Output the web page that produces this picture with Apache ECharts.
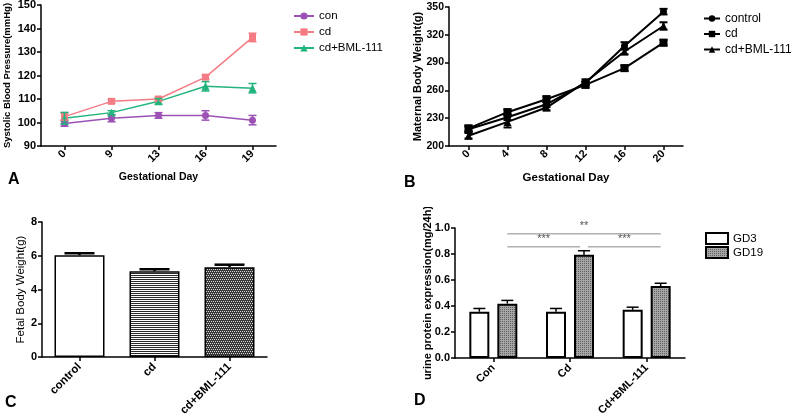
<!DOCTYPE html>
<html>
<head>
<meta charset="utf-8">
<script src="https://cdn.jsdelivr.net/npm/echarts@6/dist/echarts.min.js"></script>
<style>
body{margin:0;background:#fff;}
.p{position:absolute;width:400px;height:207px;}
</style>
</head>
<body>
<div id="divA" class="p" style="left:0;top:0"></div>
<div id="divB" class="p" style="left:400px;top:0"></div>
<div id="divC" class="p" style="left:0;top:207px"></div>
<div id="divD" class="p" style="left:400px;top:207px"></div>
<script>
var font = 'Liberation Sans';

// A - systolic blood pressure
var daysA = ['0', '9', '13', '16', '19'];
var conA = [99.6, 101.8, 103, 103, 101];
var conAErr = [1.2, 1.5, 1.2, 2, 2];
var cdA = [102.5, 109, 110, 119.3, 136.2];
var cdAErr = [1.5, 0.8, 0.8, 0.8, 1.8];
var bmlA = [101.8, 104.2, 109, 115.4, 114.6];
var bmlAErr = [2.5, 0.8, 1.2, 2, 2];

// B - maternal body weight
var daysB = ['0', '4', '8', '12', '16', '20'];
var ctrlB = [218, 231, 245, 268, 308, 345];
var ctrlBErr = [3, 3, 3, 2, 4, 3];
var cdB = [219, 236.5, 250.5, 266, 284, 311.5];
var cdBErr = [3, 3, 3, 3, 3, 3];
var bmlB = [211, 226, 241.5, 269, 302, 329.5];
var bmlBErr = [3, 6, 3, 3, 3, 4];
var ticksB = [200, 230, 260, 290, 320, 350];

// C - fetal body weight
var groupsC = ['control', 'cd', 'cd+BML-111'];
var fetalC = [6.03, 5.08, 5.32];
var fetalCErr = [0.12, 0.12, 0.15];

// D - urine protein
var groupsD = ['Con', 'Cd', 'Cd+BML-111'];
var gd3D = [0.356, 0.356, 0.371];
var gd3DErr = [0.025, 0.025, 0.02];
var gd19D = [0.418, 0.795, 0.553];
var gd19DErr = [0.025, 0.03, 0.022];
var sigD = [
  {from: 0, to: 2, level: 0.955, text: '**'},
  {from: 0, to: 1, level: 0.855, text: '***'},
  {from: 1, to: 2, level: 0.855, text: '***'}
];

function axisStyle(size){
  return {
    nameMoveOverlap: false,
    axisLine: {show: true, onZero: false, lineStyle: {color: '#000', width: 1.5}},
    axisTick: {show: true, length: 4, alignWithLabel: true, lineStyle: {color: '#000', width: 1.5}},
    axisLabel: {color: '#000', fontFamily: font, fontWeight: 'bold', fontSize: size || 11, margin: 5},
    splitLine: {show: false}
  };
}

function nameStyle(size, weight){
  return {color: '#000', fontFamily: font, fontWeight: weight || 'bold', fontSize: size};
}

// small tiled fills, like the hatching of the original figure
function pattern(w, h, bg, fg, dots){
  var c = document.createElement('canvas');
  c.width = w; c.height = h;
  var ctx = c.getContext('2d');
  ctx.fillStyle = bg; ctx.fillRect(0, 0, w, h);
  ctx.fillStyle = fg;
  dots.forEach(function(d){ ctx.fillRect(d[0], d[1], d[2] || 1, d[3] || 1); });
  return {image: c, repeat: 'repeat'};
}

function errSeries(vals, errs, color, offset, capHalf, both, width, z){
  return {
    type: 'custom',
    z: z || 5,
    silent: true,
    data: vals.map(function(v, i){ return [i, v, errs[i]]; }),
    encode: {x: 0, y: 1},
    renderItem: function(params, api){
      var i = api.value(0), v = api.value(1), e = api.value(2);
      var hi = api.coord([i, v + e]);
      var lo = api.coord([i, both ? v - e : v]);
      var x = hi[0] + offset;
      var st = {stroke: color, lineWidth: width};
      var kids = [
        {type: 'line', shape: {x1: x, y1: hi[1], x2: x, y2: lo[1]}, style: st},
        {type: 'line', shape: {x1: x - capHalf, y1: hi[1], x2: x + capHalf, y2: hi[1]}, style: st}
      ];
      if (both) kids.push({type: 'line', shape: {x1: x - capHalf, y1: lo[1], x2: x + capHalf, y2: lo[1]}, style: st});
      return {type: 'group', children: kids};
    }
  };
}

function panelLabel(txt, left, top){
  return {type: 'text', left: left, top: top, style: {text: txt, font: 'bold 16px "Liberation Sans"', fill: '#000'}};
}

// ---------- A
var chartA = echarts.init(document.getElementById('divA'));
var colA = ['#9c52b4', '#f47c84', '#22b47c'];
chartA.setOption({
  animation: false,
  grid: {left: 41, top: 5, width: 235, height: 141, outerBoundsMode: 'none'},
  legend: {
    orient: 'vertical', left: 288, top: 5, itemWidth: 20, itemHeight: 9, itemGap: 4,
    data: ['con', 'cd', 'cd+BML-111'],
    textStyle: {fontFamily: font, fontSize: 11.5, color: '#000', lineHeight: 12}
  },
  xAxis: Object.assign(axisStyle(), {
    type: 'category', data: daysA,
    name: 'Gestational Day', nameLocation: 'middle', nameGap: 26, nameTextStyle: nameStyle(10.5)
  }, {axisLabel: {color: '#000', fontFamily: font, fontWeight: 'bold', fontSize: 11, rotate: 45, margin: 6}}),
  yAxis: Object.assign(axisStyle(), {
    type: 'value', min: 90, max: 150, interval: 10,
    name: 'Systolic Blood Pressure(mmHg)', nameLocation: 'middle', nameGap: 29, nameTextStyle: nameStyle(9.5)
  }),
  graphic: [panelLabel('A', 8, 172)],
  series: [
    {name: 'con', type: 'line', data: conA, symbol: 'circle', symbolSize: 7, color: colA[0], lineStyle: {width: 1.5}},
    {name: 'cd', type: 'line', data: cdA, symbol: 'rect', symbolSize: 7, color: colA[1], lineStyle: {width: 1.5}},
    {name: 'cd+BML-111', type: 'line', data: bmlA, symbol: 'triangle', symbolSize: 8, color: colA[2], lineStyle: {width: 1.5}},
    errSeries(conA, conAErr, colA[0], 0, 4, true, 1.5),
    errSeries(cdA, cdAErr, colA[1], 0, 4, true, 1.5),
    errSeries(bmlA, bmlAErr, colA[2], 0, 4, true, 1.5)
  ]
});

// ---------- B
var chartB = echarts.init(document.getElementById('divB'));
chartB.setOption({
  animation: false,
  grid: {left: 49, top: 7, width: 234, height: 139, outerBoundsMode: 'none'},
  legend: {
    orient: 'vertical', left: 298, top: 7, itemWidth: 16, itemHeight: 8, itemGap: 2.5,
    data: ['control', 'cd', 'cd+BML-111'],
    textStyle: {fontFamily: font, fontSize: 12, color: '#000', lineHeight: 13}
  },
  xAxis: Object.assign(axisStyle(), {
    type: 'category', data: daysB,
    name: 'Gestational Day', nameLocation: 'middle', nameGap: 26, nameTextStyle: nameStyle(11.5)
  }, {axisLabel: {color: '#000', fontFamily: font, fontWeight: 'bold', fontSize: 11, rotate: 45, margin: 6}}),
  yAxis: Object.assign(axisStyle(), {
    type: 'value', min: 200, max: 350,
    name: 'Maternal Body Weight(g)', nameLocation: 'middle', nameGap: 26, nameTextStyle: nameStyle(11)
  }, {
    axisLabel: {color: '#000', fontFamily: font, fontWeight: 'bold', fontSize: 10.5, margin: 5, customValues: ticksB},
    axisTick: {show: true, length: 4, lineStyle: {color: '#000', width: 1.5}, customValues: ticksB}
  }),
  graphic: [panelLabel('B', 4, 175)],
  series: [
    {name: 'control', type: 'line', data: ctrlB, symbol: 'circle', symbolSize: 7, color: '#000', lineStyle: {width: 2}},
    {name: 'cd', type: 'line', data: cdB, symbol: 'rect', symbolSize: 8, color: '#000', lineStyle: {width: 2}},
    {name: 'cd+BML-111', type: 'line', data: bmlB, symbol: 'triangle', symbolSize: 8, color: '#000', lineStyle: {width: 2}},
    errSeries(ctrlB, ctrlBErr, '#000', 0, 4, true, 2),
    errSeries(cdB, cdBErr, '#000', 0, 4, true, 2),
    errSeries(bmlB, bmlBErr, '#000', 0, 4, true, 2)
  ]
});

// ---------- C
var chartC = echarts.init(document.getElementById('divC'));
var fillStripe = pattern(4, 4, '#fff', '#2a2a2a', [[0, 0, 4, 1], [0, 2, 4, 1]]);
var fillDots = pattern(4, 4, '#383838', '#d8d8d8', [[0, 0], [2, 0], [1, 2], [3, 2]]);
chartC.setOption({
  animation: false,
  grid: {left: 42, top: 15, width: 225, height: 135, outerBoundsMode: 'none'},
  xAxis: Object.assign(axisStyle(), {type: 'category', data: groupsC},
    {axisLabel: {color: '#000', fontFamily: font, fontWeight: 'bold', fontSize: 11.5, rotate: 45, margin: 8}}),
  yAxis: Object.assign(axisStyle(), {
    type: 'value', min: 0, max: 8, interval: 2,
    name: 'Fetal Body Weight(g)', nameLocation: 'middle', nameGap: 15, nameTextStyle: nameStyle(11.5, 'normal')
  }),
  graphic: [panelLabel('C', 5, 188)],
  series: [
    {
      type: 'bar', barWidth: 50,
      data: fetalC.map(function(v, i){
        var fills = ['#fff', fillStripe, fillDots];
        return {value: v, itemStyle: {color: fills[i], borderColor: '#000', borderWidth: 1.5}};
      })
    },
    errSeries(fetalC, fetalCErr, '#000', 0, 15, false, 2.5, 1)
  ]
});

// ---------- D
var chartD = echarts.init(document.getElementById('divD'));
var fillGray = pattern(2, 2, '#a6a6a6', '#606060', [[0, 0]]);
chartD.setOption({
  animation: false,
  grid: {left: 55, top: 21, width: 230, height: 130, outerBoundsMode: 'none'},
  legend: {
    orient: 'vertical', left: 300, top: 20, itemWidth: 22, itemHeight: 11, itemGap: 1, icon: 'rect',
    data: ['GD3', 'GD19'],
    textStyle: {fontFamily: font, fontSize: 11.5, color: '#000', lineHeight: 12}
  },
  xAxis: Object.assign(axisStyle(), {type: 'category', data: groupsD},
    {axisLabel: {color: '#000', fontFamily: font, fontWeight: 'bold', fontSize: 11, rotate: 45, margin: 8}}),
  yAxis: Object.assign(axisStyle(), {
    type: 'value', min: 0, max: 1, interval: 0.2,
    name: 'urine protein expression(mg/24h)', nameLocation: 'middle', nameGap: 22, nameTextStyle: nameStyle(11)
  }, {axisLabel: {color: '#000', fontFamily: font, fontWeight: 'bold', fontSize: 11, margin: 5,
    formatter: function(v){ return v.toFixed(1); }}}),
  series: [
    {name: 'GD3', type: 'bar', barWidth: 20, barGap: '40%', data: gd3D,
      itemStyle: {color: '#fff', borderColor: '#000', borderWidth: 2}},
    {name: 'GD19', type: 'bar', barWidth: 20, barGap: '40%', data: gd19D,
      itemStyle: {color: fillGray, borderColor: '#000', borderWidth: 2}},
    errSeries(gd3D, gd3DErr, '#000', -14, 6, false, 1.5, 1),
    errSeries(gd19D, gd19DErr, '#000', 14, 6, false, 1.5, 1)
  ]
});

// significance brackets drawn from the GD19 bar positions
var sigGraphic = [panelLabel('D', 14, 186)];
sigD.forEach(function(s, k){
  var a = chartD.convertToPixel({xAxisIndex: 0, yAxisIndex: 0}, [s.from, s.level]);
  var b = chartD.convertToPixel({xAxisIndex: 0, yAxisIndex: 0}, [s.to, s.level]);
  var x1 = a[0] + 14, x2 = b[0] + 14;
  if (k === 1) x2 -= 4;
  if (k === 2) x1 += 4;
  sigGraphic.push({type: 'line', shape: {x1: x1, y1: a[1], x2: x2, y2: a[1]}, style: {stroke: '#888', lineWidth: 1}});
  sigGraphic.push({type: 'text', x: (x1 + x2) / 2, y: a[1] - 2,
    style: {text: s.text, font: '11px "Liberation Sans"', fill: '#555', align: 'center', verticalAlign: 'bottom'}});
});
chartD.setOption({graphic: sigGraphic});
</script>
</body>
</html>
